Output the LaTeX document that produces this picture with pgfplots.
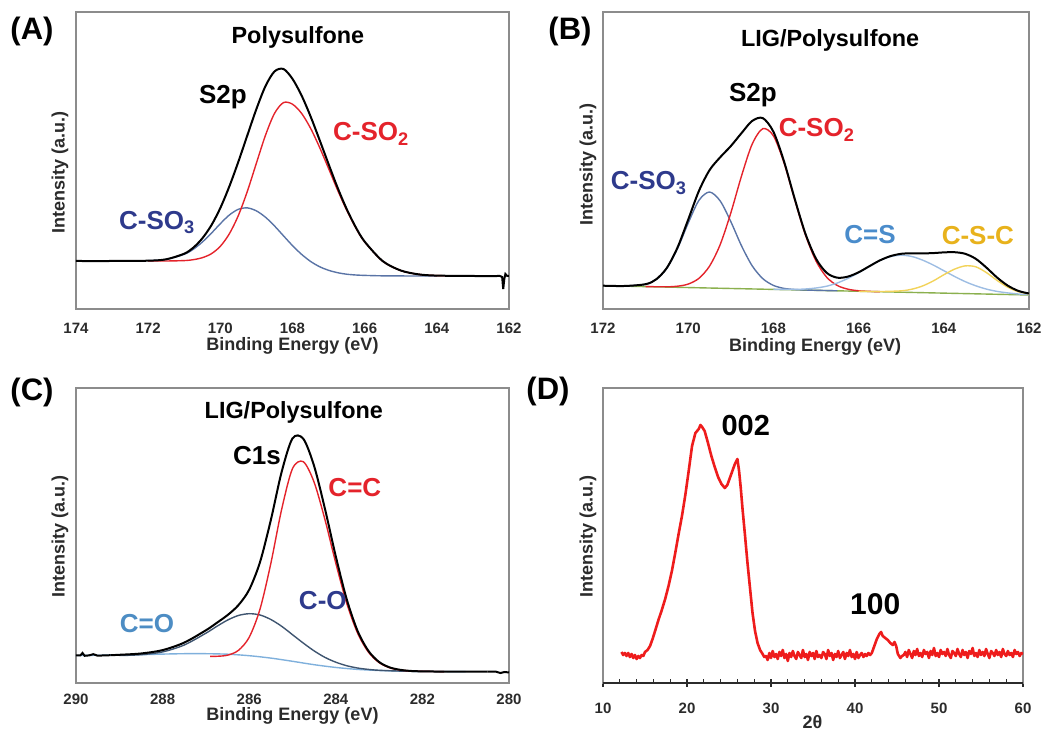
\documentclass[border=0pt]{standalone}
\usepackage{fontspec}
\setmainfont{Liberation Sans}
\usepackage{pgfplots}
\pgfplotsset{compat=1.18}

\definecolor{framegray}{HTML}{8C8C8C}
\definecolor{textgray}{HTML}{2B2B2B}
\definecolor{peakred}{HTML}{E4232B}
\definecolor{navy}{HTML}{2E3A8C}
\definecolor{sulfblue}{HTML}{5A74A6}
\definecolor{coslate}{HTML}{3F5570}
\definecolor{csblue}{HTML}{4A8CCB}
\definecolor{cslight}{HTML}{9DBDE3}
\definecolor{cscgold}{HTML}{E8B21C}
\definecolor{cscline}{HTML}{F2D35A}
\definecolor{bggreen}{HTML}{8BB04E}
\definecolor{coblue}{HTML}{4D8DC4}
\definecolor{coline}{HTML}{7FB0DC}
\definecolor{xrdred}{HTML}{EE1C1C}

\pgfplotsset{
  panel/.style={
    scale only axis,
    axis line style={draw=framegray, line width=1pt},
    ytick=\empty,
    ymin=0,
    tick label style={font=\fontsize{7.5}{8.5}\selectfont\bfseries, text=textgray},
    /pgf/number format/assume math mode=true,
    xticklabel style={anchor=center, yshift=-9.75pt},
    label style={font=\fontsize{9}{10}\selectfont\bfseries, text=textgray},
    ylabel={Intensity (a.u.)},
  },
  xps/.style={panel, x dir=reverse, major tick length=0pt},
  fit/.style={smooth, line width=0.7pt, no markers},
  env/.style={smooth, line width=1pt, black, no markers},
}
\tikzset{
  tag/.style={font=\fontsize{13}{14}\selectfont\bfseries, inner sep=0pt},
  ptitle/.style={font=\fontsize{11.7}{13}\selectfont\bfseries, inner sep=0pt},
  letter/.style={font=\fontsize{15.5}{17}\selectfont\bfseries, inner sep=0pt},
}

\begin{document}
\begin{tikzpicture}
\useasboundingbox (0,0) rectangle (527pt,369pt);

% ---------------- (A) S2p of polysulfone ----------------
\begin{axis}[xps,
  at={(38pt,214.5pt)}, anchor=south west,
  width=216.5pt, height=148.5pt,
  xmin=162, xmax=174, ymax=297,
  xtick={174,172,...,162},
  xlabel={Binding Energy (eV)},
  xlabel style={at={(axis description cs:0.5,-0.125)}, anchor=center},
  ylabel style={at={(axis description cs:-0.037,0.461)}, anchor=center},
]
\addplot[fit, sulfblue] coordinates {
 (172,48.3) (171.5,49.6) (171,54.7) (170.75,59.7) (170.5,66.9) (170.25,75.7)
 (170,85.3) (169.75,94.0) (169.5,99.7) (169.25,101.1) (169,98.1) (168.75,91.8)
 (168.5,83.1) (168.25,73.2) (168,63.4) (167.75,54.7) (167.5,47.6) (167.25,42.3)
 (167,38.7) (166.75,36.3) (166.5,34.8) (166.25,34.0) (166,33.6) (165.5,33.15)
 (165,33.05) (164,33)};
\addplot[fit, peakred] coordinates {
 (172,48.0) (171.5,48.0) (171,48.4) (170.75,49.3) (170.5,51.3) (170.25,55.2)
 (170,62.7) (169.75,75.2) (169.5,93.5) (169.25,117.8) (169,145.9) (168.75,173.6)
 (168.5,195.5) (168.25,206.4) (168,204.8) (167.75,195.7) (167.5,180.8)
 (167.25,161.7) (167,140.5) (166.75,118.9) (166.5,98.9) (166.25,81.4)
 (166,67.1) (165.5,47.8) (165,38.45) (164.5,34.6) (164,33.4) (163,33)};
\addplot[env] coordinates {
 (174,48) (173,48) (172,48.3) (171.5,49.7) (171,55.3) (170.75,61.3)
 (170.5,70.6) (170.25,83.6) (170,101.0) (169.75,122.6) (169.5,147.3)
 (169.25,173.8) (169,200.0) (168.75,222.8) (168.5,237.5) (168.25,240.0)
 (168,230.1) (167.75,213.6) (167.5,192.7) (167.25,169.1) (167,144.9)
 (166.75,121.3) (166.5,100.1) (166.25,82.0) (166,67.4) (165.5,47.9)
 (165,38.5) (164.5,34.6) (164,33.4) (163,33) (162.25,33)};
\addplot[line width=1pt, black, no markers] coordinates {
 (162.25,33) (162.19,32) (162.16,20) (162.13,30) (162.1,35) (162.05,33) (162,33)};
\node[ptitle] at (axis cs:167.85,272) {Polysulfone};
\node[tag] at (axis cs:169.93,212) {S2p};
\node[tag, text=peakred] at (axis cs:165.82,175) {C-SO\textsubscript{2}};
\node[tag, text=navy] at (axis cs:171.75,86.5) {C-SO\textsubscript{3}};
\end{axis}

% ---------------- (B) S2p of LIG/polysulfone ----------------
\begin{axis}[xps,
  at={(301.5pt,214.5pt)}, anchor=south west,
  width=213pt, height=148.5pt,
  xmin=162, xmax=172, ymax=297,
  xtick={172,170,...,162},
  xlabel={Binding Energy (eV)},
  xlabel style={at={(axis description cs:0.498,-0.128)}, anchor=center},
  ylabel style={at={(axis description cs:-0.035,0.485)}, anchor=center},
]
\addplot[line width=0.7pt, bggreen, no markers] coordinates {(172,23.3) (162,14.0)};
\addplot[fit, sulfblue] coordinates {
 (172,23.3) (171.5,22.9) (171,24.8) (170.75,29.7) (170.5,40.9) (170.25,60.5)
 (170,85.9) (169.75,108.5) (169.5,117.0) (169.25,108.1) (169,87.4)
 (168.75,63.3) (168.5,43.3) (168.25,30.4) (168,23.6) (167.75,20.6)
 (167.5,19.5) (167.25,19.0) (167,18.7) (166.5,18.2)};
\addplot[fit, peakred] coordinates {
 (171,22.4) (170.5,22.2) (170.25,22.8) (170,24.9) (169.75,30.6) (169.5,42.8)
 (169.25,64.3) (169,96.0) (168.75,132.8) (168.5,164.7) (168.25,180.3)
 (168,173.2) (167.75,146.0) (167.5,109.3) (167.25,74.3) (167,48.0)
 (166.75,31.8) (166.5,23.5) (166.25,19.8) (166,18.2) (165.75,17.6) (165.5,17.3)};
\addplot[fit, cslight] coordinates {
 (168,19.7) (167.5,19.6) (167.25,20.0) (167,21.0) (166.75,22.8) (166.5,26.0)
 (166.25,30.6) (166,36.2) (165.75,42.6) (165.5,48.4) (165.25,52.4) (165,53.8)
 (164.75,52.5) (164.5,48.9) (164.25,44.0) (164,38.3) (163.75,32.6)
 (163.5,27.4) (163.25,23.2) (163,19.9) (162.75,17.6) (162.5,16.1)
 (162.25,15.0) (162,14.4)};
\addplot[fit, cscline] coordinates {
 (166,17.7) (165.5,17.45) (165,18.15) (164.75,19.8) (164.5,23.0) (164.25,28.0)
 (164,34.2) (163.75,39.8) (163.5,43.1) (163.25,42.2) (163,36.4) (162.75,28.6)
 (162.5,21.8) (162.25,17.3) (162,15.1)};
\addplot[env] coordinates {
 (172,23.3) (171.5,23.0) (171,24.8) (170.75,29.7) (170.5,41.2) (170.25,61.6)
 (170,89.4) (169.75,117.9) (169.5,138.8) (169.25,151.7) (169,162.9)
 (168.75,175.8) (168.5,188.0) (168.25,190.9) (168,177.3) (167.75,147.5)
 (167.5,110.2) (167.25,75.5) (167,50.3) (166.75,36.2) (166.5,31.3)
 (166.25,32.4) (166,36.7) (165.75,42.7) (165.5,48.6) (165.25,52.9)
 (165,55.2) (164.75,55.7) (164.5,55.6) (164.25,55.9) (164,56.6)
 (163.75,56.8) (163.5,55.2) (163.25,50.2) (163,41.4) (162.75,31.5)
 (162.5,23.4) (162.25,18.1) (162,15.5)};
\node[ptitle] at (axis cs:166.67,269) {LIG/Polysulfone};
\node[tag] at (axis cs:168.48,214) {S2p};
\node[tag, text=peakred] at (axis cs:166.98,179) {C-SO\textsubscript{2}};
\node[tag, text=navy] at (axis cs:170.92,126) {C-SO\textsubscript{3}};
\node[tag, text=csblue] at (axis cs:165.73,74) {C=S};
\node[tag, text=cscgold] at (axis cs:163.2,73) {C-S-C};
\end{axis}

% ---------------- (C) C1s of LIG/polysulfone ----------------
\begin{axis}[xps,
  at={(38pt,27.5pt)}, anchor=south west,
  width=216.5pt, height=147.5pt,
  xmin=280, xmax=290, ymax=295,
  xtick={290,288,...,280},
  xticklabel style={yshift=1.5pt},
  xlabel={Binding Energy (eV)},
  xlabel style={at={(axis description cs:0.5,-0.11)}, anchor=center},
  ylabel style={at={(axis description cs:-0.037,0.495)}, anchor=center},
]
\addplot[fit, coline] coordinates {
 (290,27.5) (289,28.0) (288.5,28.3) (288,28.9) (287.5,29.3) (287,29.3)
 (286.5,28.8) (286,27.3) (285.5,24.9) (285,21.7) (284.5,18.3) (284,15.55)
 (283.5,13.6) (283,12.5) (282.5,11.9) (282,11.6) (281,11.35)};
\addplot[fit, coslate] coordinates {
 (289,27.45) (288.5,28.3) (288,31.1) (287.5,38.0) (287,49.8) (286.75,56.6)
 (286.5,62.9) (286.25,67.5) (286,69.3) (285.75,68.0) (285.5,63.5)
 (285.25,56.7) (285,48.3) (284.75,39.9) (284.5,32.1) (284.25,25.6)
 (284,20.8) (283.75,17.3) (283.5,15.0) (283.25,13.6) (283,12.7)
 (282.5,11.9) (282,11.55) (281.5,11.4)};
\addplot[fit, peakred] coordinates {
 (286.9,26.6) (286.75,26.7) (286.5,27.8) (286.25,32.6) (286,45.7)
 (285.75,73.9) (285.5,119.6) (285.25,173.7) (285,214.4) (284.75,221.3)
 (284.5,200.7) (284.25,163.3) (284,119.8) (283.75,80.1) (283.5,50.2)
 (283.25,31.1) (283,20.4) (282.75,15.15) (282.5,12.9) (282.25,11.95)
 (282,11.65) (281.5,11.4)};
\addplot[line width=1pt, black, no markers] coordinates {
 (290,27.5) (289.9,27.5) (289.85,30.0) (289.8,27.2) (289.7,27.6) (289.6,28.8)
 (289.5,27.3) (289.4,27.5) (289.2,27.8)};
\addplot[env] coordinates {
 (289.2,27.8) (289,28.2) (288.5,29.5) (288,32.9) (287.5,40.4) (287,52.7)
 (286.75,60.1) (286.5,67.9) (286.25,77.8) (286,93.3) (285.75,120.9)
 (285.5,163.0) (285.25,211.2) (285,244.6) (284.75,244.2) (284.5,216.9)
 (284.25,174.1) (284,126.6) (283.75,84.1) (283.5,52.4) (283.25,32.3)
 (283,21.0) (282.75,15.5) (282.5,13.1) (282.25,12.0) (282,11.65)
 (281.5,11.4) (281,11.35) (280.5,11.3)};
\addplot[line width=1pt, black, no markers] coordinates {
 (280.5,11.3) (280.3,11.3) (280.2,10.0) (280.1,11.0) (280,10.5)};
\node[ptitle] at (axis cs:284.97,271) {LIG/Polysulfone};
\node[tag] at (axis cs:285.82,227) {C1s};
\node[tag, text=peakred] at (axis cs:283.56,195) {C=C};
\node[tag, text=navy] at (axis cs:284.3,82) {C-O};
\node[tag, text=coblue] at (axis cs:288.36,59) {C=O};
\end{axis}

% ---------------- (D) XRD pattern ----------------
\begin{axis}[panel,
  at={(301.5pt,27.5pt)}, anchor=south west,
  width=210pt, height=147.5pt,
  xmin=10, xmax=60, ymax=295,
  xtick={10,20,...,60},
  minor x tick num=4,
  xtick pos=bottom,
  xtick align=center,
  major tick length=4pt,
  minor tick length=2pt,
  every tick/.style={textgray, line width=0.6pt},
  every minor tick/.append style={yshift=1pt},
  xticklabel style={yshift=-1pt},
  xlabel={2θ},
  xlabel style={at={(axis description cs:0.499,-0.132)}, anchor=center},
  ylabel style={at={(axis description cs:-0.036,0.495)}, anchor=center},
  after end axis/.code={
    \draw[textgray, line width=1pt] (rel axis cs:0,0) -- (rel axis cs:1,0);
  },
]
\addplot[xrdred, line width=1.3pt, no markers, line join=round] coordinates {
 (12.2,31) (12.4,28) (12.6,30) (12.8,27) (13.0,30) (13.2,26) (13.4,29)
 (13.6,25) (13.8,28) (14.0,24) (14.2,27) (14.4,25) (14.6,28) (14.8,27)
 (15.0,31) (15.3,33) (15.6,37) (15.9,44) (16.2,52)
 (16.6,63) (17.0,73) (17.4,84) (17.8,97) (18.2,112) (18.6,130) (19.0,149)
 (19.4,167) (19.8,188) (20.2,212) (20.6,237) (21.0,250) (21.4,254)
 (21.6,258) (21.8,256) (22.1,252) (22.5,240) (22.9,227) (23.3,216)
 (23.7,206) (24.1,199) (24.5,195) (24.8,198) (25.1,205) (25.4,212)
 (25.7,219) (26.0,224) (26.2,212) (26.4,195) (26.6,175) (26.9,148)
 (27.2,120) (27.5,95) (27.8,70) (28.1,52) (28.4,40) (28.7,33) (29.0,29)
 (29.2,26)
 (29.4,27) (29.6,23) (29.8,30) (30.0,25) (30.2,32) (30.4,26) (30.6,29)
 (30.8,24) (31.0,31) (31.2,27) (31.4,33) (31.6,25) (31.8,29) (32.0,22)
 (32.2,30) (32.4,26) (32.6,32) (32.8,27) (33.0,24) (33.2,31) (33.4,28)
 (33.6,25) (33.8,33) (34.0,26) (34.2,29) (34.4,23) (34.6,31) (34.8,27)
 (35.0,30) (35.2,24) (35.4,32) (35.6,26) (35.8,28) (36.0,25) (36.2,31)
 (36.4,29) (36.6,24) (36.8,33) (37.0,27) (37.2,30) (37.4,23) (37.6,29)
 (37.8,26) (38.0,32) (38.2,25) (38.4,28) (38.6,31) (38.8,24) (39.0,30)
 (39.2,27) (39.4,33) (39.6,26) (39.8,29) (40.0,24) (40.2,31) (40.4,25)
 (40.6,28) (40.8,30) (41.0,26) (41.2,29) (41.4,27) (41.6,30) (41.8,28)
 (42.0,30) (42.3,37) (42.6,44) (42.9,49) (43.1,51)
 (43.3,47) (43.6,45) (43.9,43) (44.2,40) (44.5,38) (44.7,41) (44.9,37)
 (45.1,29) (45.4,25) (45.6,27)
 (45.8,28) (46.0,31) (46.2,26) (46.4,33) (46.6,29) (46.8,25) (47.0,32)
 (47.2,28) (47.4,34) (47.6,27) (47.8,30) (48.0,26) (48.2,33) (48.4,29)
 (48.6,31) (48.8,25) (49.0,32) (49.2,28) (49.4,35) (49.6,27) (49.8,30)
 (50.0,26) (50.2,33) (50.4,29) (50.6,31) (50.8,27) (51.0,34) (51.2,28)
 (51.4,25) (51.6,32) (51.8,30) (52.0,27) (52.2,34) (52.4,29) (52.6,26)
 (52.8,33) (53.0,28) (53.2,31) (53.4,25) (53.6,32) (53.8,29) (54.0,35)
 (54.2,27) (54.4,30) (54.6,26) (54.8,33) (55.0,28) (55.2,31) (55.4,27)
 (55.6,34) (55.8,29) (56.0,25) (56.2,32) (56.4,30) (56.6,27) (56.8,33)
 (57.0,28) (57.2,31) (57.4,26) (57.6,34) (57.8,29) (58.0,27) (58.2,32)
 (58.4,28) (58.6,30) (58.8,26) (59.0,33) (59.2,29) (59.4,31) (59.6,27)
 (59.8,30) (60.0,29)};
\node[font=\fontsize{14.5}{16}\selectfont\bfseries, inner sep=0pt] at (axis cs:27.0,257) {002};
\node[font=\fontsize{15}{16}\selectfont\bfseries, inner sep=0pt] at (axis cs:42.4,79) {100};
\end{axis}

% panel letters
\node[letter] at (16pt,353.5pt) {(A)};
\node[letter] at (285pt,353.5pt) {(B)};
\node[letter] at (16pt,173pt) {(C)};
\node[letter] at (274pt,173.5pt) {(D)};
\end{tikzpicture}
\end{document}
